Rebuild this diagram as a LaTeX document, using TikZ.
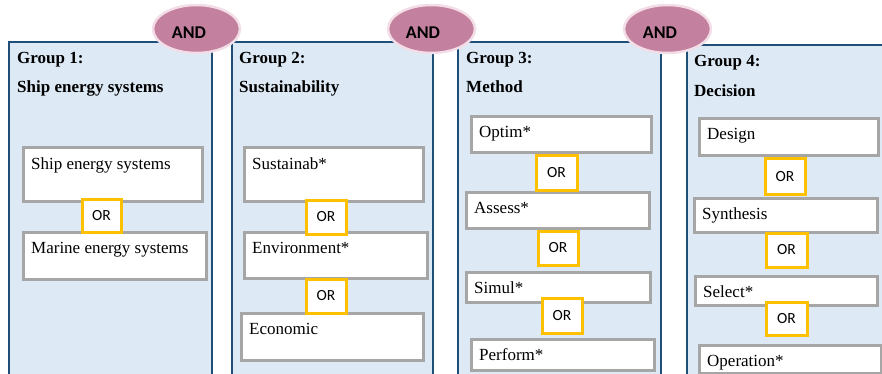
\documentclass[tikz,border=0pt]{standalone}
\usepackage{fontspec}
\setmainfont{Liberation Serif}
\newfontfamily\orfont{Carlito}
\usetikzlibrary{shapes.geometric}

\definecolor{panelline}{HTML}{1F4E79}
\definecolor{panelfill}{HTML}{DDEAF6}
\definecolor{termline}{HTML}{A6A6A6}
\definecolor{orline}{HTML}{FFC000}
\definecolor{andfill}{HTML}{C3819F}
\definecolor{andrim}{HTML}{F3DDE7}

\tikzset{
  panel/.style={draw=panelline, fill=panelfill, line width=2.8pt, rectangle,
    anchor=north west, inner sep=0pt, outer sep=0pt},
  grouptitle/.style={anchor=base west, inner sep=0pt,
    font=\fontsize{17}{20}\selectfont\bfseries},
  tbox/.style={draw=termline, fill=white, line width=3pt, rectangle,
    anchor=north west, inner sep=0pt, outer sep=0pt},
  ttext/.style={anchor=base west, inner sep=0pt, font=\fontsize{17}{20}\selectfont},
  orbox/.style={draw=orline, fill=white, line width=3pt, rectangle,
    inner sep=0pt, outer sep=0pt, font=\orfont\fontsize{15.5}{18}\selectfont},
  andell/.style={ellipse, draw=andrim, fill=andfill, line width=2.5pt,
    minimum width=87pt, minimum height=48pt, inner sep=0pt},
  andtext/.style={inner sep=0pt, font=\orfont\bfseries\fontsize{18}{21}\selectfont}
}

% search-term box: name, left, top, right, bottom, text
\newcommand\termentry[6]{%
  \node[tbox, minimum width={#4-#2}, minimum height={#5-#3}] (#1) at (#2,#3) {};
  \node[ttext] (#1-t) at ([xshift=8pt, yshift=-21pt]#1.north west) {#6};}
% OR connector box: name, left, top, right, bottom
\newcommand\orentry[5]{%
  \node[orbox, minimum width={#4-#2}, minimum height={#5-#3}] (#1)
    at ({(#2+#4)/2},{(#3+#5)/2}) {OR};}

\begin{document}
\begin{tikzpicture}[x=1pt, y=-1pt]
  \useasboundingbox (0,0) rectangle (882,374);
  \clip (0,0) rectangle (882,374);

  % group panels
  \node[panel, minimum width=203pt, minimum height=360pt] (g1) at (9,42) {};
  \node[panel, minimum width=201pt, minimum height=360pt] (g2) at (232,42) {};
  \node[panel, minimum width=203pt, minimum height=360pt] (g3) at (458,42) {};
  \node[panel, minimum width=230pt, minimum height=360pt] (g4) at (687,45) {};

  % group titles
  \node[grouptitle] (g1a) at (17,64) {Group 1:};
  \node[grouptitle] (g1b) at (17,93) {Ship energy systems};
  \node[grouptitle] (g2a) at (239,64) {Group 2:};
  \node[grouptitle] (g2b) at (239,93) {Sustainability};
  \node[grouptitle] (g3a) at (466,64) {Group 3:};
  \node[grouptitle] (g3b) at (466,93) {Method};
  \node[grouptitle] (g4a) at (694,67) {Group 4:};
  \node[grouptitle] (g4b) at (694,97) {Decision};

  % group 1 terms
  \termentry{ses}{23}{148}{202}{201}{Ship energy systems}
  \termentry{mes}{23}{232}{206}{279}{Marine energy systems}
  \orentry{or11}{82}{199}{121}{232}

  % group 2 terms
  \termentry{sus}{244}{148}{423}{201}{Sustainab*}
  \termentry{env}{244}{232}{427}{278}{Environment*}
  \termentry{eco}{241}{313}{423}{360}{Economic}
  \orentry{or21}{306}{200}{346}{234}
  \orentry{or22}{306}{279}{346}{313}

  % group 3 terms
  \termentry{opt}{471}{117}{651}{153}{Optim*}
  \termentry{ass}{466}{192}{649}{228}{Assess*}
  \termentry{sim}{466}{272}{650}{302}{Simul*}
  \termentry{per}{471}{339}{654}{370}{Perform*}
  \orentry{or31}{536}{156}{577}{190}
  \orentry{or32}{538}{231}{578}{265}
  \orentry{or33}{542}{298}{582}{333}

  % group 4 terms
  \termentry{des}{699}{119}{878}{156}{Design}
  \termentry{syn}{694}{198}{877}{232}{Synthesis}
  \termentry{sel}{695}{276}{877}{305}{Select*}
  \termentry{ope}{699}{345}{881}{373}{Operation*}
  \orentry{or41}{765}{159}{805}{194}
  \orentry{or42}{766}{233}{807}{267}
  \orentry{or43}{766}{302}{807}{335}

  % AND links between groups
  \node[andell] (and1) at (196.5,29) {};
  \node[andtext] (and1t) at (189,33) {AND};
  \node[andell] (and2) at (431.5,29) {};
  \node[andtext] (and2t) at (423,33) {AND};
  \node[andell] (and3) at (667.5,29) {};
  \node[andtext] (and3t) at (660,33) {AND};
\end{tikzpicture}
\end{document}
